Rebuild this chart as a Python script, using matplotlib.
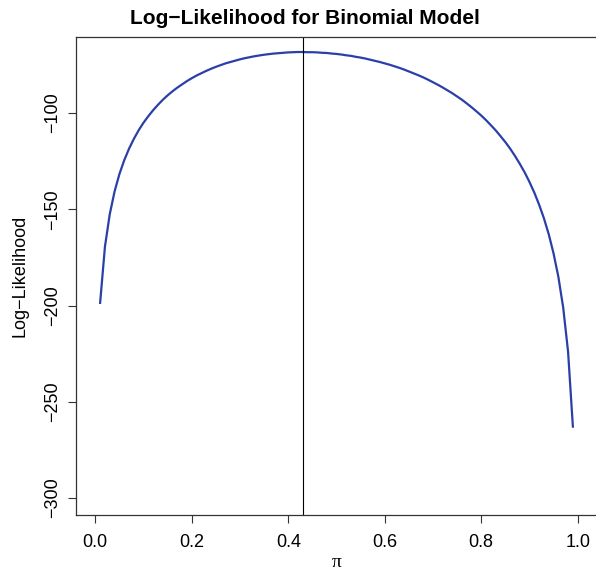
import matplotlib
matplotlib.use('Agg')
import matplotlib.pyplot as plt

# pi grid (step 0.01) and log-likelihood values
pi_vals = [0.01, 0.02, 0.03, 0.04, 0.05, 0.06, 0.07, 0.08, 0.09, 0.10,
           0.11, 0.12, 0.13, 0.14, 0.15, 0.16, 0.17, 0.18, 0.19, 0.20,
           0.21, 0.22, 0.23, 0.24, 0.25, 0.26, 0.27, 0.28, 0.29, 0.30,
           0.31, 0.32, 0.33, 0.34, 0.35, 0.36, 0.37, 0.38, 0.39, 0.40,
           0.41, 0.42, 0.43, 0.44, 0.45, 0.46, 0.47, 0.48, 0.49, 0.50,
           0.51, 0.52, 0.53, 0.54, 0.55, 0.56, 0.57, 0.58, 0.59, 0.60,
           0.61, 0.62, 0.63, 0.64, 0.65, 0.66, 0.67, 0.68, 0.69, 0.70,
           0.71, 0.72, 0.73, 0.74, 0.75, 0.76, 0.77, 0.78, 0.79, 0.80,
           0.81, 0.82, 0.83, 0.84, 0.85, 0.86, 0.87, 0.88, 0.89, 0.90,
           0.91, 0.92, 0.93, 0.94, 0.95, 0.96, 0.97, 0.98, 0.99]
loglik = [-198.6, -169.4, -152.5, -140.7, -131.7, -124.5, -118.5, -113.4, -108.9, -105.0,
          -101.6, -98.5, -95.7, -93.1, -90.8, -88.7, -86.8, -85.1, -83.4, -81.9,
          -80.5, -79.3, -78.1, -77.0, -76.0, -75.1, -74.2, -73.5, -72.8, -72.1,
          -71.5, -71.0, -70.5, -70.1, -69.7, -69.4, -69.1, -68.9, -68.7, -68.5,
          -68.4, -68.3, -68.3, -68.4, -68.4, -68.5, -68.7, -68.8, -69.1, -69.3,
          -69.6, -70.0, -70.3, -70.8, -71.2, -71.7, -72.3, -72.9, -73.5, -74.2,
          -74.9, -75.7, -76.5, -77.4, -78.4, -79.4, -80.4, -81.5, -82.7, -84.0,
          -85.3, -86.7, -88.2, -89.7, -91.4, -93.1, -95.0, -97.0, -99.1, -101.3,
          -103.7, -106.3, -109.0, -112.0, -115.1, -118.5, -122.3, -126.4, -130.8, -135.8,
          -141.3, -147.6, -154.7, -163.0, -173.0, -185.2, -201.2, -223.9, -262.9]
mle = 0.43

x_ticks = [0.0, 0.2, 0.4, 0.6, 0.8, 1.0]
x_labels = ['0.0', '0.2', '0.4', '0.6', '0.8', '1.0']
y_ticks = [-300, -250, -200, -150, -100]

plt.rcParams['font.family'] = ['Liberation Sans', 'DejaVu Sans']

fig = plt.figure(figsize=(5.96, 5.76), dpi=100)
ax = fig.add_axes([76 / 596, 61 / 576, 521 / 596, 478 / 576])

ax.plot(pi_vals, loglik, color='#2B3FA8', lw=1.6)
ax.axvline(mle, color='black', lw=0.8)

ax.set_xlim(-0.04, 1.04)
ax.set_ylim(-308.8, -60.5)
ax.set_xticks(x_ticks)
ax.set_xticklabels(x_labels)
ax.set_yticks(y_ticks)
ax.set_yticklabels(['\u2212' + str(abs(v)) for v in y_ticks], rotation=90, va='center')

ax.tick_params(axis='both', labelsize=13, length=6, width=0.8, color='#333333')
ax.tick_params(axis='x', pad=8)
ax.tick_params(axis='y', pad=5)
for s in ax.spines.values():
    s.set_linewidth(0.9)
    s.set_color('#333333')

ax.set_xlabel('\u03c0', fontsize=14, family=['Liberation Serif', 'DejaVu Serif'], labelpad=2)
ax.set_ylabel('Log\u2212Likelihood', fontsize=13, labelpad=11)
fig.text(305 / 596, 1 - 18 / 576, 'Log\u2212Likelihood for Binomial Model',
         ha='center', va='center', fontsize=15, fontweight='bold')

plt.savefig('out.png', dpi=100)
